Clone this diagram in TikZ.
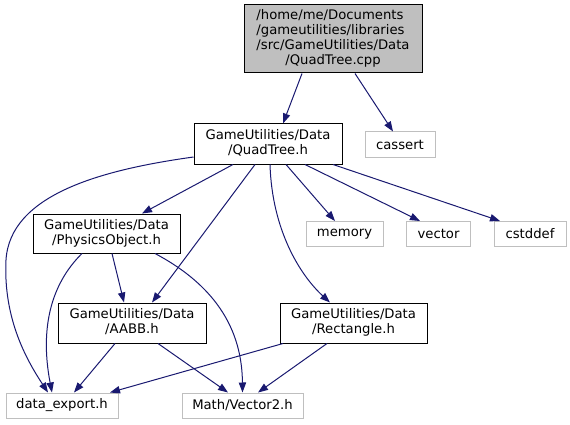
\documentclass[tikz,border=0pt]{standalone}
\usepackage{fontspec}
\setmainfont{DejaVu Sans}
\usetikzlibrary{arrows.meta,calc}
\definecolor{edgeblue}{HTML}{191970}
\definecolor{greyb}{HTML}{BFBFBF}
\newcommand\twolines[2]{\begin{tabular}{@{}l@{}}#1\\\multicolumn{1}{@{}c@{}}{#2}\end{tabular}}
\begin{document}
\begin{tikzpicture}[x=0.75pt,y=-0.75pt,
  wh/.style 2 args={minimum width=#1*0.75pt,minimum height=#2*0.75pt},
  filebox/.style={draw=black,line width=0.75pt,inner sep=0pt,font=\fontsize{9.9}{11.25}\selectfont},
  sysbox/.style={filebox,draw=greyb},
  dep/.style={draw=edgeblue,line width=0.75pt,-{Triangle[length=7.5pt,width=5.5pt]}}]
\useasboundingbox (0,0) rectangle (570,424);

\node[filebox,fill=greyb,wh={178}{68}] (root) at (333,39)
  {\begin{tabular}{@{}l@{}}/home/me/Documents\\/gameutilities/libraries\\/src/GameUtilities/Data\\\multicolumn{1}{@{}c@{}}{/QuadTree.cpp}\end{tabular}};
\node[filebox,wh={148}{40}] (qt) at (268,144) {\twolines{GameUtilities/Data}{/QuadTree.h}};
\node[sysbox,wh={70}{25}] (cassert) at (400,144.5) {cassert};
\node[filebox,wh={147}{39}] (phys) at (106.5,233.5) {\twolines{GameUtilities/Data}{/PhysicsObject.h}};
\node[sysbox,wh={77}{25}] (memory) at (344.5,234) {memory};
\node[sysbox,wh={64}{25}] (vector) at (438.5,234) {vector};
\node[sysbox,wh={72}{25}] (cstddef) at (530,234) {cstddef};
\node[filebox,wh={148}{40}] (aabb) at (132,323) {\twolines{GameUtilities/Data}{/AABB.h}};
\node[filebox,wh={147}{40}] (rect) at (353.5,323) {\twolines{GameUtilities/Data}{/Rectangle.h}};
\node[sysbox,wh={112}{25}] (de) at (62,405.5) {data\_export.h};
\node[sysbox,wh={121}{25}] (v2) at (242.5,405.5) {Math/Vector2.h};

\draw[dep] ($(root.south)+(-31,0)$) -- ($(qt.north)+(15,0)$);
\draw[dep] ($(root.south)+(22,0)$) -- ($(cassert.north)+(-7,0)$);
\draw[dep] ($(qt.west)+(0,13)$) .. controls (100,170) and (10,195) .. (6,260)
  .. controls (3,320) and (28,362) .. ($(de.north)+(-14,0)$);
\draw[dep] ($(qt.south)+(-35,0)$) -- ($(phys.north)+(35.5,0)$);
\draw[dep] ($(qt.south)+(-13,0)$) -- ($(aabb.north)+(20,0)$);
\draw[dep] ($(qt.south)+(2,0)$) .. controls (272,230) and (300,275) .. ($(rect.north)+(-23.5,0)$);
\draw[dep] ($(qt.south)+(18,0)$) -- ($(memory.north)+(-9.5,0)$);
\draw[dep] ($(qt.south)+(37,0)$) -- ($(vector.north)+(-18.5,0)$);
\draw[dep] ($(qt.south)+(65,0)$) -- ($(cstddef.north)+(-30,0)$);
\draw[dep] ($(phys.south)+(-24.5,0)$) .. controls (50,285) and (40,330) .. ($(de.north)+(-10,0)$);
\draw[dep] ($(phys.south)+(5.5,0)$) -- ($(aabb.north)+(-8,0)$);
\draw[dep] ($(phys.south)+(48.5,0)$) .. controls (205,280) and (242,320) .. (v2.north);
\draw[dep] ($(aabb.south)+(-17,0)$) -- ($(de.north)+(12,0)$);
\draw[dep] ($(aabb.south)+(26,0)$) -- ($(v2.north)+(-14.5,0)$);
\draw[dep] ($(rect.south)+(-70.5,0)$) -- ($(de.north)+(48,0)$);
\draw[dep] ($(rect.south)+(-26.5,0)$) -- ($(v2.north)+(15.5,0)$);
\end{tikzpicture}
\end{document}
